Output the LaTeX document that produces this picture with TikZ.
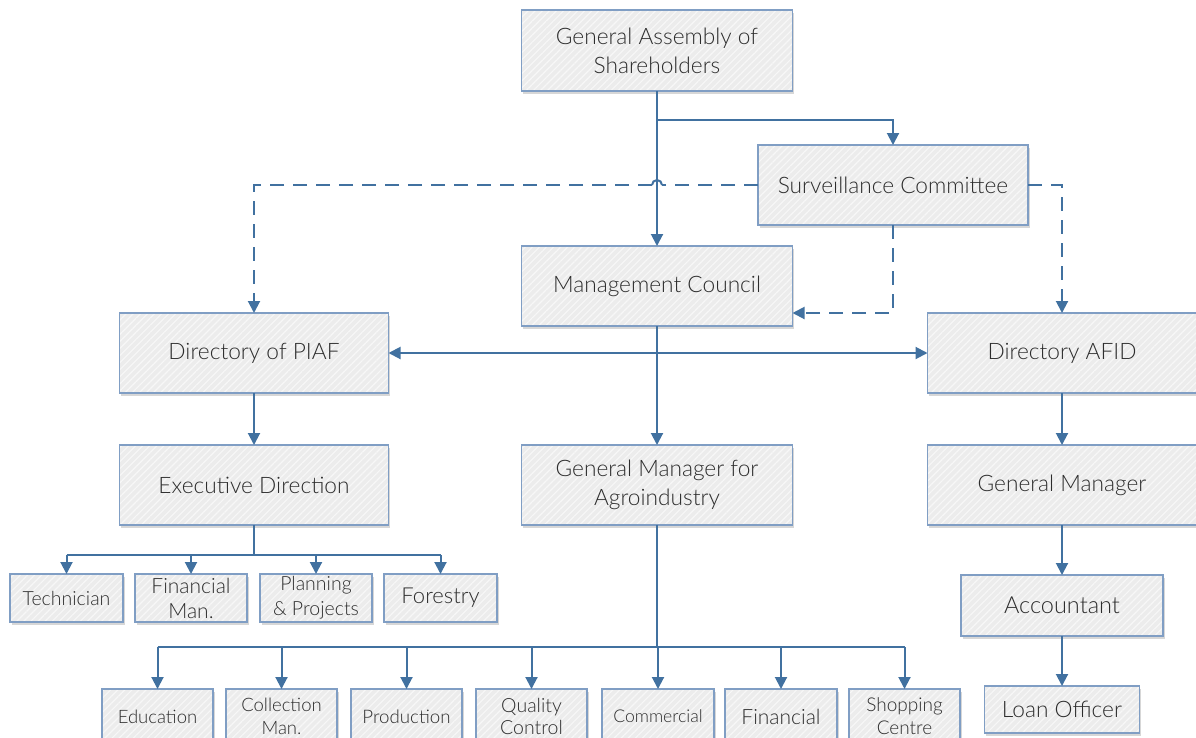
\documentclass[tikz,border=0pt]{standalone}
\usepackage{fontspec}
\setmainfont{Lato}[UprightFont=* Light]
\usetikzlibrary{arrows.meta,shadows,patterns.meta}
\definecolor{edge}{RGB}{65,113,160}
\definecolor{rim}{RGB}{128,158,196}
\definecolor{boxfill}{RGB}{236,236,236}
\definecolor{txt}{RGB}{45,45,45}
\tikzset{
  x=1pt, y=-1pt,
  orgbox/.style={draw=rim, line width=1.3pt, text=txt, align=center,
    inner sep=0pt, outer sep=0pt,
    preaction={drop shadow={shadow xshift=1.5pt, shadow yshift=-2.5pt, opacity=0.35, fill=black!45}},
    preaction={fill=boxfill},
    pattern={Lines[angle=45,distance=5pt,line width=1.2pt]}, pattern color=white!60!boxfill},
  bigbox/.style={orgbox, font=\fontsize{22.7}{29}\selectfont},
  smallbox/.style={orgbox, font=\fontsize{19}{25}\selectfont},
  link/.style={draw=edge, line width=2pt, -{Triangle[length=12pt,width=12pt]}},
  plain/.style={draw=edge, line width=2pt},
  dlink/.style={link, dash pattern=on 14pt off 9pt},
}
\begin{document}
\begin{tikzpicture}
\useasboundingbox (0,0) rectangle (1196,737);

% main boxes
\node[bigbox, minimum width=271pt, minimum height=81pt] (ga) at (657,50.5) {General Assembly of\\Shareholders};
\node[bigbox, minimum width=270pt, minimum height=80pt] (sc) at (893,185) {Surveillance Committee};
\node[bigbox, minimum width=271pt, minimum height=80pt] (mc) at (657,286) {Management Council};
\node[bigbox, minimum width=269pt, minimum height=80pt] (piaf) at (254,353) {Directory of PIAF};
\node[bigbox, minimum width=269pt, minimum height=80pt] (afid) at (1062,353) {Directory AFID};
\node[bigbox, minimum width=269pt, minimum height=80pt] (ed) at (254,485) {Executive Direction};
\node[bigbox, minimum width=271pt, minimum height=80pt] (gma) at (657,485) {General Manager for\\Agroindustry};
\node[bigbox, minimum width=269pt, minimum height=80pt] (gm) at (1062,485) {General Manager};
\node[bigbox, minimum width=202pt, minimum height=61pt, font=\fontsize{23.5}{29}\selectfont] (acc) at (1062,605.5) {Accountant};
\node[bigbox, minimum width=155pt, minimum height=47pt] (loan) at (1062,709.5) {Loan Officer};

% units under the executive direction
\node[smallbox, minimum width=113pt, minimum height=48pt, font=\fontsize{19.5}{25}\selectfont] (tech) at (66.5,598) {Technician};
\node[smallbox, minimum width=112pt, minimum height=48pt, font=\fontsize{21}{25}\selectfont] (fin1) at (191,598) {Financial\\Man.};
\node[smallbox, minimum width=112pt, minimum height=48pt, font=\fontsize{19.5}{25}\selectfont] (plan) at (316,598) {Planning\\\& Projects};
\node[smallbox, minimum width=113pt, minimum height=48pt, font=\fontsize{22}{25}\selectfont] (forest) at (440.5,598) {Forestry};

% units under the agroindustry manager
\node[smallbox, minimum width=111pt, minimum height=55pt, font=\fontsize{18.5}{25}\selectfont] (edu) at (157.5,716.5) {Education};
\node[smallbox, minimum width=111pt, minimum height=55pt, font=\fontsize{18.5}{23}\selectfont] (coll) at (281.5,716.5) {Collection\\Man.};
\node[smallbox, minimum width=111pt, minimum height=55pt, font=\fontsize{18.7}{25}\selectfont] (prod) at (406.5,716.5) {Production};
\node[smallbox, minimum width=111pt, minimum height=55pt, font=\fontsize{19.5}{23}\selectfont, text depth=0pt] (qual) at (531.5,716.5) {Quality\\[-1pt]Control};
\node[smallbox, minimum width=112pt, minimum height=55pt, font=\fontsize{17.6}{25}\selectfont] (comm) at (658,716.5) {Commercial};
\node[smallbox, minimum width=112pt, minimum height=55pt, font=\fontsize{21}{25}\selectfont] (fin2) at (781,716.5) {Financial};
\node[smallbox, minimum width=111pt, minimum height=55pt, font=\fontsize{19}{23}\selectfont] (shop) at (904.5,716.5) {Shopping\\Centre};

% solid lines of authority
\coordinate (gasplit) at (657,120);
\draw[link] (ga.south) -- (mc.north);
\draw[link] (gasplit) -| (sc.north);
\draw[link] (mc.south) -- (gma.north);
\draw[draw=edge, line width=2pt, {Triangle[length=12pt,width=12pt]}-{Triangle[length=12pt,width=12pt]}] (piaf.east) -- (afid.west);
\draw[link] (piaf.south) -- (ed.north);
\draw[link] (afid.south) -- (gm.north);
\draw[link] (gm.south) -- (acc.north);
\draw[link] (acc.south) -- (loan.north);

% supervision (dashed), hopping over the central line
\coordinate (hopR) at (662,185);
\coordinate (hopL) at (652,185);
\draw[plain, dash pattern=on 14pt off 9pt] (sc.west) -- (hopR);
\draw[plain] (hopR) arc[start angle=0, end angle=180, radius=5pt];
\draw[dlink] (hopL) -- (piaf.north |- hopL) -- (piaf.north);
\draw[dlink] (sc.east) -| (afid.north);
\draw[dlink] (sc.south) |- (mc.east |- 0,313);

% fan-out under the executive direction
\coordinate (edbus) at (254,555);
\draw[plain] (ed.south) -- (edbus);
\draw[plain] (tech.north |- edbus) -- (forest.north |- edbus);
\foreach \n in {tech,fin1,plan,forest}
  \draw[link] (\n.north |- edbus) -- (\n.north);

% fan-out under the agroindustry manager
\coordinate (gbus) at (657,647);
\draw[plain] (gma.south) -- (gbus);
\draw[plain] (edu.north |- gbus) -- (shop.north |- gbus);
\foreach \n in {edu,coll,prod,qual,comm,fin2,shop}
  \draw[link] (\n.north |- gbus) -- (\n.north);
\end{tikzpicture}
\end{document}
